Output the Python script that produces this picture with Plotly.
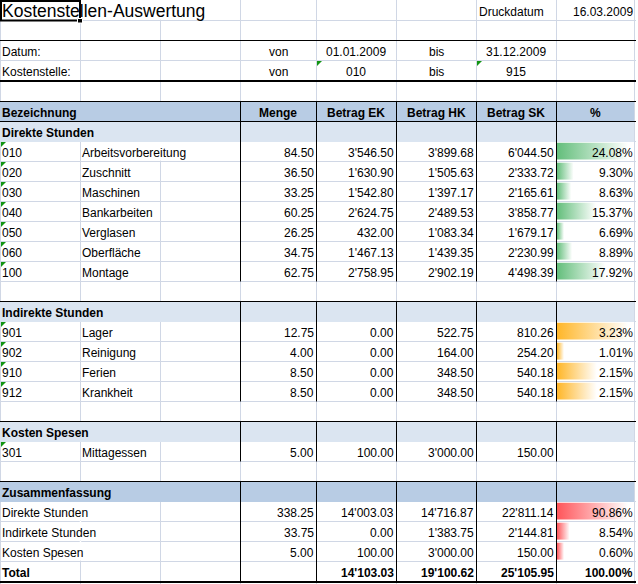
import plotly.graph_objects as go

# ---------------- data ----------------
title = "Kostenstellen-Auswertung"
print_label = "Druckdatum"
print_date = "16.03.2009"
filter_labels = ["Datum:", "Kostenstelle:"]
filter_from = ["01.01.2009", "010"]
filter_to = ["31.12.2009", "915"]
col_headers = ["Bezeichnung", "Menge", "Betrag EK", "Betrag HK", "Betrag SK", "%"]

direct_title = "Direkte Stunden"
direct_codes = ["010", "020", "030", "040", "050", "060", "100"]
direct_names = ["Arbeitsvorbereitung", "Zuschnitt", "Maschinen", "Bankarbeiten",
                "Verglasen", "Oberfläche", "Montage"]
direct_menge = [84.50, 36.50, 33.25, 60.25, 26.25, 34.75, 62.75]
direct_ek = [3546.50, 1630.90, 1542.80, 2624.75, 432.00, 1467.13, 2758.95]
direct_hk = [3899.68, 1505.63, 1397.17, 2489.53, 1083.34, 1439.35, 2902.19]
direct_sk = [6044.50, 2333.72, 2165.61, 3858.77, 1679.17, 2230.99, 4498.39]
direct_pct = [24.08, 9.30, 8.63, 15.37, 6.69, 8.89, 17.92]

indirect_title = "Indirekte Stunden"
indirect_codes = ["901", "902", "910", "912"]
indirect_names = ["Lager", "Reinigung", "Ferien", "Krankheit"]
indirect_menge = [12.75, 4.00, 8.50, 8.50]
indirect_ek = [0.00, 0.00, 0.00, 0.00]
indirect_hk = [522.75, 164.00, 348.50, 348.50]
indirect_sk = [810.26, 254.20, 540.18, 540.18]
indirect_pct = [3.23, 1.01, 2.15, 2.15]

spesen_title = "Kosten Spesen"
spesen_codes = ["301"]
spesen_names = ["Mittagessen"]
spesen_menge = [5.00]
spesen_ek = [100.00]
spesen_hk = [3000.00]
spesen_sk = [150.00]
spesen_pct = [None]

summary_title = "Zusammenfassung"
summary_names = ["Direkte Stunden", "Indirkete Stunden", "Kosten Spesen"]
summary_menge = [338.25, 33.75, 5.00]
summary_ek = [14003.03, 0.00, 100.00]
summary_hk = [14716.87, 1383.75, 3000.00]
summary_sk = [22811.14, 2144.81, 150.00]
summary_pct = [90.86, 8.54, 0.60]

total_label = "Total"
total_ek = 14103.03
total_hk = 19100.62
total_sk = 25105.95
total_pct = 100.00

# ---------------- styling / geometry ----------------
W, H = 638, 584
FONT = "Arial, 'Liberation Sans', sans-serif"
GRID = "#D0D7E5"
HDR_DARK = "#B8CCE4"
HDR_LIGHT = "#DBE5F1"
GREEN, ORANGE, RED = "#63BE7B", "#FFB628", "#FF555A"
COLS = [0, 80, 160, 240, 316, 396, 476, 556, 634]
RIGHT = 636
N_ROWS = 29


def row_top(r):
    return 20 * r if r <= 4 else 101 + 20 * (r - 5)


def row_bot(r):
    return row_top(r + 1)


def fmt(v):
    return f"{v:,.2f}".replace(",", "'")


shapes = []
annotations = []
traces = []


def line(x0, y0, x1, y1, color, width=1):
    shapes.append(dict(type="line", x0=x0, y0=y0, x1=x1, y1=y1, xref="x", yref="y",
                       line=dict(color=color, width=width), layer="below"))


def rect(x0, y0, x1, y1, fill, lc=None, lw=0):
    shapes.append(dict(type="rect", x0=x0, y0=y0, x1=x1, y1=y1, xref="x", yref="y",
                       fillcolor=fill, line=dict(color=lc or fill, width=lw), layer="below"))


def txt(x, r, s, anchor="left", bold=False, size=12, dy=1.5):
    yc = (row_top(r) + row_bot(r)) / 2 + dy
    annotations.append(dict(x=x, y=yc, xref="x", yref="y", text=s, showarrow=False,
                            xanchor=anchor, yanchor="middle", borderpad=0, borderwidth=0,
                            font=dict(family=FONT, size=size, color="black",
                                      weight="bold" if bold else "normal")))


# gridlines
for r in range(1, N_ROWS + 1):
    y = row_top(r) + 0.5
    line(0, y, RIGHT, y, GRID)
for x in COLS:
    line(x + 0.5, 0, x + 0.5, H, GRID)

# masks where text overflows neighbouring cells
def mask(x, r):
    rect(x - 0.2, row_top(r) - 0.2, x + 1.2, row_top(r) + 19.6, "white")

mask(80, 0); mask(160, 0)
mask(160, 7)
for r in (25, 26, 27):
    mask(80, r)

# header fills
def band(r, color):
    rect(0, row_top(r), COLS[-1], row_bot(r) + 1, color)

band(5, HDR_DARK)
band(6, HDR_LIGHT)
band(15, HDR_LIGHT)
band(21, HDR_LIGHT)
band(24, HDR_DARK)

# black borders
line(0, 40.5, RIGHT, 40.5, "black")
line(0, 81, RIGHT, 81, "black", 2)
for y in (101.5, 121.5, 301.5, 421.5, 481.5):
    line(0, y, RIGHT, y, "black")
line(0, 582, RIGHT, 582, "black", 2)
for (ya, yb) in ((101, 281.5), (301, 401.5), (421, 461.5), (481, 582)):
    for x in COLS[3:8]:
        line(x + 0.5, ya, x + 0.5, yb, "black")

# selected cell A1
shapes.append(dict(type="rect", x0=1, y0=1, x1=80, y1=20.5, xref="x", yref="y",
                   line=dict(color="black", width=2), fillcolor="rgba(0,0,0,0)"))
shapes.append(dict(type="rect", x0=77.5, y0=18.5, x1=82.5, y1=23, xref="x", yref="y",
                   line=dict(color="white", width=1), fillcolor="black"))
line(0.5, 0, 0.5, 21, "#F4A53C", 1.5)

# green error triangles
def tri(x, r):
    t = row_top(r)
    shapes.append(dict(type="path", path=f"M {x+1},{t+1} L {x+6},{t+1} L {x+1},{t+6} Z",
                       xref="x", yref="y", fillcolor="#129412", line=dict(width=0)))

# ---------------- top area ----------------
txt(1.5, 0, title, size=17.5, dy=0.5)
txt(COLS[6] + 2.5, 0, print_label, size=12)
txt(633, 0, print_date, anchor="right", size=12)
for i in range(2):
    r = 2 + i
    txt(2, r, filter_labels[i])
    txt((COLS[3] + COLS[4]) / 2, r, "von", anchor="center")
    txt((COLS[4] + COLS[5]) / 2, r, filter_from[i], anchor="center")
    txt((COLS[5] + COLS[6]) / 2, r, "bis", anchor="center")
    txt((COLS[6] + COLS[7]) / 2, r, filter_to[i], anchor="center")
tri(COLS[4], 3)
tri(COLS[6], 3)

# column headers
txt(2, 5, col_headers[0], bold=True)
for j, h in enumerate(col_headers[1:]):
    txt((COLS[3 + j] + COLS[4 + j]) / 2, 5, h, anchor="center", bold=True)


def data_bars(r0, vals, color):
    present = [v for v in vals if v is not None]
    if not present:
        return
    mn, mx = min(present), max(present)
    x0 = COLS[7] + 1
    cw = COLS[8] - COLS[7]
    lmin, lmax = 0.09 * cw, 0.91 * cw
    for i, v in enumerate(vals):
        if v is None:
            continue
        frac = (v - mn) / (mx - mn) if mx > mn else 1.0
        x1 = x0 + lmin + frac * (lmax - lmin)
        t = row_top(r0 + i) + 1.7
        b = row_top(r0 + i) + 18.6
        traces.append(go.Scatter(
            x=[x0, x1, x1, x0, x0], y=[t, t, b, b, t], mode="lines", fill="toself",
            line=dict(width=0, color=color), hoverinfo="skip",
            fillgradient=dict(type="horizontal",
                              colorscale=[[0, color], [1, "#FFFFFF"]])))


def number_cols(r, menge, ek, hk, sk, pct, bold=False):
    if menge is not None:
        txt(COLS[4] - 2, r, fmt(menge), anchor="right", bold=bold)
    txt(COLS[5] - 2, r, fmt(ek), anchor="right", bold=bold)
    txt(COLS[6] - 2, r, fmt(hk), anchor="right", bold=bold)
    txt(COLS[7] - 2, r, fmt(sk), anchor="right", bold=bold)
    if pct is not None:
        txt(633, r, f"{pct:.2f}%", anchor="right", bold=bold)


def section(hr, name, codes, names, menge, ek, hk, sk, pct, color):
    txt(2, hr, name, bold=True)
    data_bars(hr + 1, pct, color)
    for i in range(len(codes)):
        r = hr + 1 + i
        tri(0, r)
        txt(2, r, codes[i])
        txt(COLS[1] + 2, r, names[i])
        number_cols(r, menge[i], ek[i], hk[i], sk[i], pct[i])


section(6, direct_title, direct_codes, direct_names, direct_menge, direct_ek,
        direct_hk, direct_sk, direct_pct, GREEN)
section(15, indirect_title, indirect_codes, indirect_names, indirect_menge, indirect_ek,
        indirect_hk, indirect_sk, indirect_pct, ORANGE)
section(21, spesen_title, spesen_codes, spesen_names, spesen_menge, spesen_ek,
        spesen_hk, spesen_sk, spesen_pct, GREEN)

# summary
txt(2, 24, summary_title, bold=True)
data_bars(25, summary_pct, RED)
for i in range(len(summary_names)):
    r = 25 + i
    txt(2, r, summary_names[i])
    number_cols(r, summary_menge[i], summary_ek[i], summary_hk[i], summary_sk[i], summary_pct[i])
txt(2, 28, total_label, bold=True)
number_cols(28, None, total_ek, total_hk, total_sk, total_pct, bold=True)

fig = go.Figure(traces)
fig.update_layout(
    width=W, height=H, margin=dict(l=0, r=0, t=0, b=0, pad=0),
    xaxis=dict(range=[0, W], visible=False, fixedrange=True),
    yaxis=dict(range=[H, 0], visible=False, fixedrange=True),
    showlegend=False, plot_bgcolor="white", paper_bgcolor="white",
    shapes=shapes, annotations=annotations,
)
fig.write_html("out.html", config={"displayModeBar": False},
               post_script="document.body.style.margin='0';")
